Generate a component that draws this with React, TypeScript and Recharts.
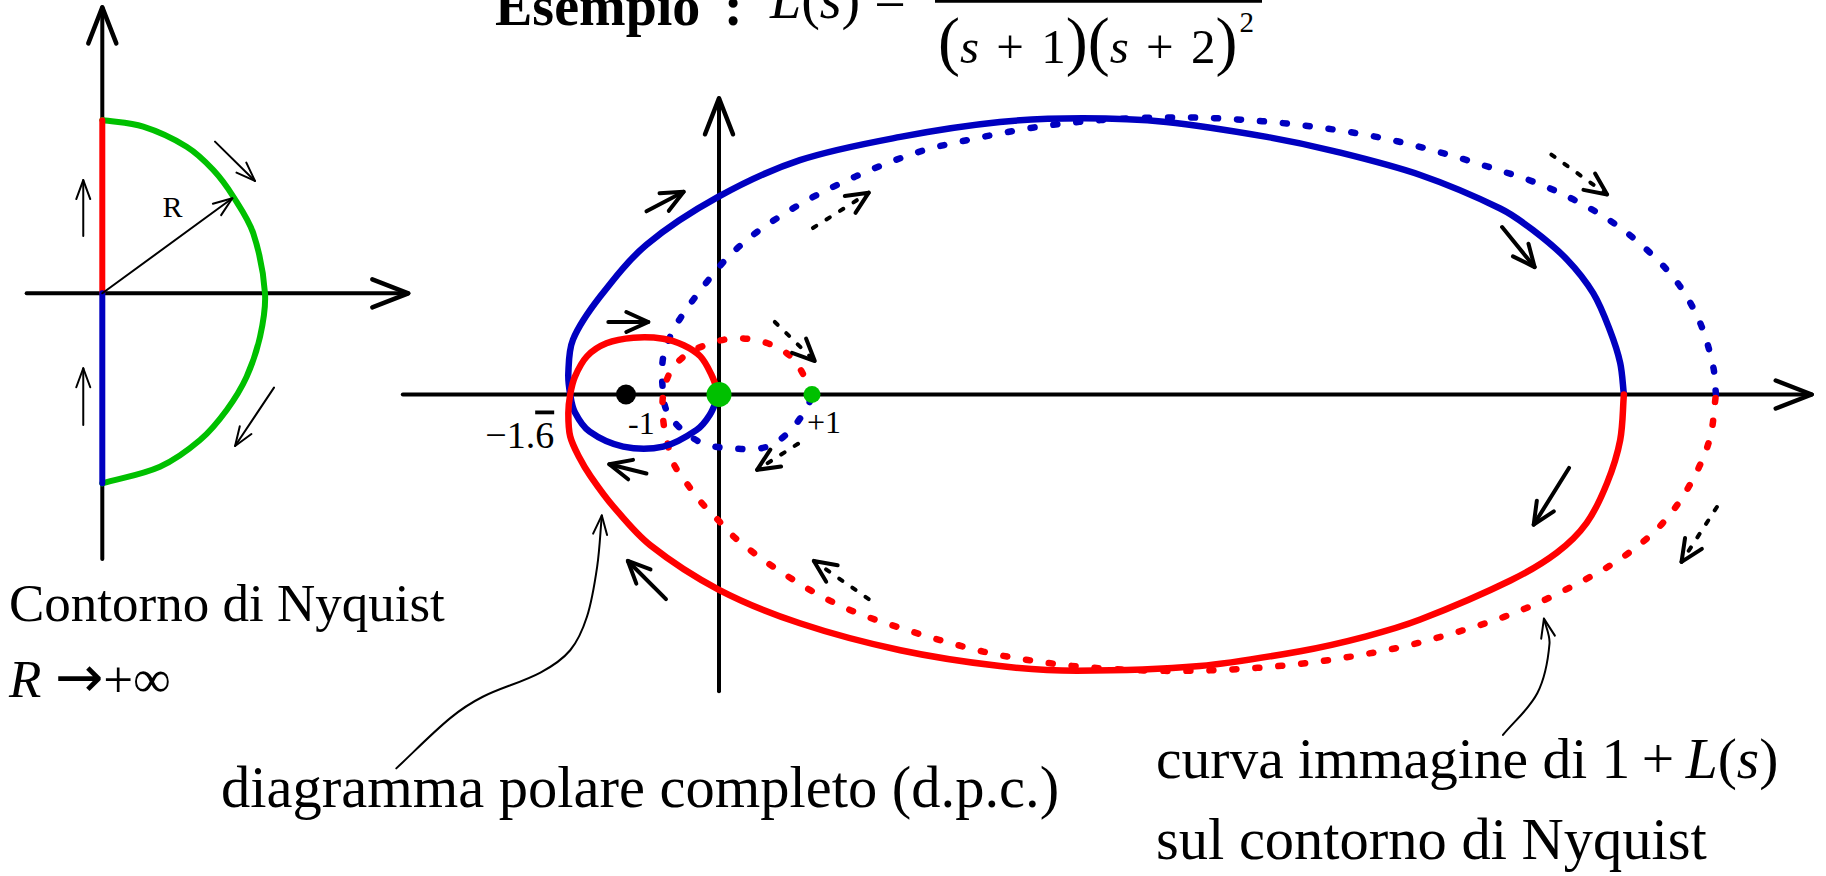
import React from 'react';
import { LineChart, Line, XAxis, YAxis, ReferenceDot } from 'recharts';

type Pt = { x: number; y: number };

const BLUE = '#0000C0';
const RED = '#FF0000';
const GREEN = '#00C000';
const BLACK = '#000000';
const FONT = "'Liberation Serif', 'Times New Roman', serif";

// ---- contorno di Nyquist (piano s, unità ≈ R) ----
const contourAxisX: Pt[] = [{ x: -0.445, y: 0 }, { x: 1.8, y: 0 }];
const contourAxisY: Pt[] = [{ x: 0, y: -1.563 }, { x: 0, y: 1.682 }];
const contourPosImag: Pt[] = [{ x: 0, y: 0 }, { x: 0, y: 1.018 }];
const contourNegImag: Pt[] = [{ x: 0, y: -1.118 }, { x: 0, y: 0 }];
const contourArc: Pt[] = [
  { x: 0, y: 1.019 }, { x: 0.241, y: 0.98 }, { x: 0.496, y: 0.862 }, { x: 0.653, y: 0.725 },
  { x: 0.771, y: 0.568 }, { x: 0.888, y: 0.353 }, { x: 0.957, y: 0 }, { x: 0.928, y: -0.255 },
  { x: 0.849, y: -0.491 }, { x: 0.732, y: -0.686 }, { x: 0.575, y: -0.863 }, { x: 0.339, y: -1.02 },
  { x: 0, y: -1.118 },
];
const contourArrows: Pt[][] = [
  [{ x: 0, y: 0 }, { x: 0.765, y: 0.559 }],
  [{ x: 0.663, y: 0.892 }, { x: 0.898, y: 0.661 }],
  [{ x: 1.01, y: -0.555 }, { x: 0.781, y: -0.898 }],
  [{ x: -0.112, y: 0.337 }, { x: -0.112, y: 0.666 }],
  [{ x: -0.112, y: -0.775 }, { x: -0.112, y: -0.441 }],
];

// ---- diagramma polare L(jw) e curva 1+L(s) ----
const axisX: Pt[] = [{ x: -3.4, y: 0 }, { x: 11.75, y: 0 }];
const axisY: Pt[] = [{ x: 0, y: -3.19 }, { x: 0, y: 3.185 }];

const blueSolid: Pt[] = [
  { x: 9.73, y: 0 }, { x: 9.69, y: 0.34 }, { x: 9.58, y: 0.69 }, { x: 9.4, y: 1.09 }, { x: 9.12, y: 1.45 },
  { x: 8.75, y: 1.77 }, { x: 8.4, y: 2.0 }, { x: 7.54, y: 2.36 }, { x: 6.6, y: 2.62 }, { x: 5.89, y: 2.77 },
  { x: 4.81, y: 2.93 }, { x: 3.91, y: 2.97 }, { x: 3.02, y: 2.93 }, { x: 1.95, y: 2.77 }, { x: 0.87, y: 2.52 },
  { x: 0, y: 2.13 }, { x: -0.78, y: 1.61 }, { x: -1.28, y: 1.05 }, { x: -1.57, y: 0.59 }, { x: -1.62, y: 0.23 },
  { x: -1.6, y: 0 }, { x: -1.55, y: -0.19 }, { x: -1.39, y: -0.4 }, { x: -1.03, y: -0.56 }, { x: -0.6, y: -0.56 },
  { x: -0.24, y: -0.38 }, { x: -0.1, y: -0.22 }, { x: 0, y: 0 },
];

const redSolid: Pt[] = [
  { x: 0, y: 0 }, { x: -0.08, y: 0.21 }, { x: -0.2, y: 0.41 }, { x: -0.38, y: 0.53 }, { x: -0.6, y: 0.6 },
  { x: -0.92, y: 0.61 }, { x: -1.21, y: 0.55 }, { x: -1.42, y: 0.41 }, { x: -1.55, y: 0.19 }, { x: -1.6, y: 0 },
  { x: -1.62, y: -0.2 }, { x: -1.6, y: -0.45 }, { x: -1.5, y: -0.68 }, { x: -1.38, y: -0.88 }, { x: -1.14, y: -1.2 },
  { x: -0.74, y: -1.62 }, { x: 0, y: -2.1 }, { x: 0.87, y: -2.46 }, { x: 1.95, y: -2.75 }, { x: 3.02, y: -2.92 },
  { x: 3.85, y: -2.97 }, { x: 5.17, y: -2.92 }, { x: 6.25, y: -2.76 }, { x: 6.96, y: -2.6 }, { x: 7.54, y: -2.42 },
  { x: 8.51, y: -2.0 }, { x: 9.01, y: -1.7 }, { x: 9.33, y: -1.38 }, { x: 9.55, y: -0.95 }, { x: 9.69, y: -0.49 },
  { x: 9.73, y: 0 },
];

const blueDotted: Pt[] = [
  { x: 10.72, y: 0 }, { x: 10.69, y: 0.3 }, { x: 10.55, y: 0.77 }, { x: 10.3, y: 1.21 }, { x: 9.94, y: 1.59 },
  { x: 9.55, y: 1.89 }, { x: 9.08, y: 2.15 }, { x: 8.61, y: 2.34 }, { x: 7.39, y: 2.7 }, { x: 6.39, y: 2.88 },
  { x: 5.35, y: 2.97 }, { x: 4.45, y: 2.97 }, { x: 3.59, y: 2.9 }, { x: 2.84, y: 2.77 }, { x: 2.09, y: 2.59 },
  { x: 1.16, y: 2.2 }, { x: 0.51, y: 1.82 }, { x: 0.12, y: 1.5 }, { x: -0.2, y: 1.12 }, { x: -0.47, y: 0.73 },
  { x: -0.6, y: 0.4 }, { x: -0.6, y: 0 }, { x: -0.55, y: -0.2 }, { x: -0.35, y: -0.42 }, { x: -0.13, y: -0.54 },
  { x: 0.15, y: -0.58 }, { x: 0.44, y: -0.58 }, { x: 0.62, y: -0.51 }, { x: 0.8, y: -0.35 }, { x: 0.94, y: -0.15 },
  { x: 1.01, y: 0 },
];

const redDotted: Pt[] = [
  { x: 1.01, y: 0 }, { x: 0.92, y: 0.19 }, { x: 0.8, y: 0.38 }, { x: 0.62, y: 0.51 }, { x: 0.37, y: 0.59 },
  { x: 0.12, y: 0.6 }, { x: -0.12, y: 0.54 }, { x: -0.35, y: 0.43 }, { x: -0.52, y: 0.25 }, { x: -0.6, y: 0 },
  { x: -0.6, y: -0.27 }, { x: -0.56, y: -0.49 }, { x: -0.49, y: -0.74 }, { x: -0.35, y: -0.95 }, { x: -0.2, y: -1.15 },
  { x: -0.01, y: -1.35 }, { x: 0.15, y: -1.52 }, { x: 0.37, y: -1.7 }, { x: 0.58, y: -1.85 }, { x: 1.01, y: -2.12 },
  { x: 1.44, y: -2.33 }, { x: 1.95, y: -2.51 }, { x: 2.41, y: -2.65 }, { x: 2.91, y: -2.78 }, { x: 3.42, y: -2.87 },
  { x: 3.92, y: -2.93 }, { x: 4.67, y: -2.97 }, { x: 5.44, y: -2.96 }, { x: 6.21, y: -2.9 }, { x: 6.96, y: -2.79 },
  { x: 7.6, y: -2.65 }, { x: 8.55, y: -2.35 }, { x: 9.37, y: -1.96 }, { x: 9.8, y: -1.69 }, { x: 10.15, y: -1.38 },
  { x: 10.44, y: -0.97 }, { x: 10.65, y: -0.49 }, { x: 10.72, y: 0 },
];

const solidArrows: Pt[][] = [
  [{ x: -0.78, y: 1.97 }, { x: -0.38, y: 2.18 }],
  [{ x: -1.19, y: 0.78 }, { x: -0.76, y: 0.78 }],
  [{ x: -0.78, y: -0.85 }, { x: -1.18, y: -0.75 }],
  [{ x: -0.57, y: -2.2 }, { x: -0.98, y: -1.79 }],
  [{ x: 8.42, y: 1.8 }, { x: 8.77, y: 1.37 }],
  [{ x: 9.14, y: -0.79 }, { x: 8.76, y: -1.4 }],
];
const dashedArrows: Pt[][] = [
  [{ x: 1.01, y: 1.79 }, { x: 1.61, y: 2.17 }],
  [{ x: 0.6, y: 0.78 }, { x: 1.03, y: 0.36 }],
  [{ x: 0.85, y: -0.53 }, { x: 0.41, y: -0.81 }],
  [{ x: 1.61, y: -2.2 }, { x: 1.02, y: -1.79 }],
  [{ x: 8.95, y: 2.58 }, { x: 9.55, y: 2.15 }],
  [{ x: 10.73, y: -1.21 }, { x: 10.35, y: -1.8 }],
];
const leaderPolar: Pt[] = [
  { x: -3.47, y: -4.02 }, { x: -2.89, y: -3.48 }, { x: -2.54, y: -3.25 }, { x: -1.92, y: -2.99 },
  { x: -1.6, y: -2.75 }, { x: -1.42, y: -2.39 }, { x: -1.31, y: -1.85 }, { x: -1.26, y: -1.3 },
];
const leaderImage: Pt[] = [
  { x: 8.43, y: -3.66 }, { x: 8.8, y: -3.21 }, { x: 8.93, y: -2.68 }, { x: 8.87, y: -2.41 },
];

const criticalPoint = { x: -1, y: 0, label: '-1' };
const originPoint = { x: 0, y: 0 };
const plusOnePoint = { x: 1, y: 0, label: '+1' };
const crossingPoint = { x: -1.6, y: 0, label: '\u22121.', bar: '6' };

const ZERO = { top: 0, right: 0, bottom: 0, left: 0 };

// curva liscia che passa per i punti (tangenti scalate sulla lunghezza della corda)
const smoothCurve = (context: any) => {
  let pts: number[][] = [];
  return {
    areaStart() {},
    areaEnd() {},
    lineStart() { pts = []; },
    point(x: number, y: number) { pts.push([+x, +y]); },
    lineEnd() {
      const n = pts.length;
      if (!n) return;
      context.moveTo(pts[0][0], pts[0][1]);
      if (n === 2) { context.lineTo(pts[1][0], pts[1][1]); return; }
      const dir = (i: number) => {
        const a = pts[Math.max(0, i - 1)];
        const b = pts[Math.min(n - 1, i + 1)];
        const dx = b[0] - a[0], dy = b[1] - a[1];
        const l = Math.hypot(dx, dy) || 1;
        return [dx / l, dy / l];
      };
      for (let i = 0; i < n - 1; i++) {
        const p1 = pts[i], p2 = pts[i + 1];
        const d = Math.hypot(p2[0] - p1[0], p2[1] - p1[1]) / 3;
        const t1 = dir(i), t2 = dir(i + 1);
        context.bezierCurveTo(p1[0] + t1[0] * d, p1[1] + t1[1] * d, p2[0] - t2[0] * d, p2[1] - t2[1] * d, p2[0], p2[1]);
      }
    },
  };
};

const seg = (key: string, data: Pt[], stroke: string, width: number, extra: any = {}) => (
  <Line
    key={key}
    data={data}
    dataKey="y"
    type="linear"
    stroke={stroke}
    strokeWidth={width}
    strokeLinecap="round"
    dot={false}
    activeDot={false}
    isAnimationActive={false}
    {...extra}
  />
);

const pointLabel = (content: React.ReactNode, dx: number, dy: number, size: number, anchor: string) =>
  (p: any) => {
    const vb = p.viewBox || { x: 0, y: 0, width: 0, height: 0 };
    const cx = vb.x + vb.width / 2;
    const cy = vb.y + vb.height / 2;
    return (
      <text x={cx + dx} y={cy + dy} fontSize={size} fontFamily={FONT} textAnchor={anchor} fill={BLACK}>
        {content}
      </text>
    );
  };

function ContourChart() {
  const W = 440, H = 580, U = 170, OX = 102.3, OY = 293.3;
  return (
    <LineChart width={W} height={H} margin={ZERO}>
      <XAxis type="number" dataKey="x" scale="linear" domain={[-OX / U, (W - OX) / U]} allowDataOverflow hide />
      <YAxis type="number" dataKey="y" scale="linear" domain={[(OY - H) / U, OY / U]} allowDataOverflow hide />
      {seg('cax', contourAxisX, BLACK, 4, { markerEnd: 'url(#headAxis)' })}
      {seg('cay', contourAxisY, BLACK, 4, { markerEnd: 'url(#headAxis)' })}
      {seg('arc', contourArc, GREEN, 6, { type: smoothCurve })}
      {seg('pos', contourPosImag, RED, 6)}
      {seg('neg', contourNegImag, BLUE, 6)}
      {contourArrows.map((a, i) => seg('ca' + i, a, BLACK, 2, { markerEnd: 'url(#headThin)' }))}
      <ReferenceDot x={0.413} y={0.451} r={1} fill="none" stroke="none"
        label={pointLabel('R', 0, 0, 30, 'middle')} />
    </LineChart>
  );
}

function NyquistChart() {
  const W = 1826, H = 876, U = 93, OX = 719, OY = 394.5;
  return (
    <LineChart width={W} height={H} margin={ZERO}>
      <XAxis type="number" dataKey="x" scale="linear" domain={[-OX / U, (W - OX) / U]} allowDataOverflow hide />
      <YAxis type="number" dataKey="y" scale="linear" domain={[(OY - H) / U, OY / U]} allowDataOverflow hide />
      {seg('ax', axisX, BLACK, 4, { markerEnd: 'url(#headAxis)' })}
      {seg('ay', axisY, BLACK, 4, { markerEnd: 'url(#headAxis)' })}
      {seg('bd', blueDotted, BLUE, 6.5, { type: smoothCurve, strokeDasharray: '4 19' })}
      {seg('rd', redDotted, RED, 6.5, { type: smoothCurve, strokeDasharray: '4 19' })}
      {seg('bs', blueSolid, BLUE, 6.5, { type: smoothCurve })}
      {seg('rs', redSolid, RED, 6.5, { type: smoothCurve })}
      {solidArrows.map((a, i) => seg('sa' + i, a, BLACK, 4, { markerEnd: 'url(#headMid)' }))}
      {dashedArrows.map((a, i) => seg('da' + i, a, BLACK, 4, { markerEnd: 'url(#headMid)', strokeDasharray: '4 12' }))}
      {seg('lp', leaderPolar, BLACK, 2, { type: smoothCurve, markerEnd: 'url(#headThin)' })}
      {seg('li', leaderImage, BLACK, 2, { type: smoothCurve, markerEnd: 'url(#headThin)' })}
      <ReferenceDot x={crossingPoint.x} y={crossingPoint.y} r={1} fill="none" stroke="none"
        label={pointLabel(
          <>
            {crossingPoint.label}
            <tspan style={{ textDecoration: 'overline' }}>{crossingPoint.bar}</tspan>
          </>, -16, 53, 38, 'end')} />
      <ReferenceDot x={criticalPoint.x} y={criticalPoint.y} r={10} fill={BLACK} stroke="none"
        label={pointLabel(criticalPoint.label, 2, 39, 32, 'start')} />
      <ReferenceDot x={plusOnePoint.x} y={plusOnePoint.y} r={8.5} fill={GREEN} stroke="none"
        label={pointLabel(plusOnePoint.label, -5, 38, 32, 'start')} />
      <ReferenceDot x={originPoint.x} y={originPoint.y} r={12.5} fill={GREEN} stroke="none" />
    </LineChart>
  );
}

function Overlay() {
  return (
    <svg width={1826} height={876} style={{ position: 'absolute', left: 0, top: 0, pointerEvents: 'none' }}
      fontFamily={FONT} fill={BLACK}>
      <defs>
        <marker id="headAxis" markerUnits="userSpaceOnUse" viewBox="-42 -20 46 40" markerWidth={46} markerHeight={40}
          refX={0} refY={0} orient="auto" overflow="visible">
          <path d="M -36 -14 L 0 0 L -36 14" fill="none" stroke={BLACK} strokeWidth={4.5} strokeLinecap="round" strokeLinejoin="round" />
        </marker>
        <marker id="headMid" markerUnits="userSpaceOnUse" viewBox="-28 -14 32 28" markerWidth={32} markerHeight={28}
          refX={0} refY={0} orient="auto" overflow="visible">
          <path d="M -22 -10 L 0 0 L -22 10" fill="none" stroke={BLACK} strokeWidth={4} strokeLinecap="round" strokeLinejoin="round" />
        </marker>
        <marker id="headThin" markerUnits="userSpaceOnUse" viewBox="-24 -10 28 20" markerWidth={28} markerHeight={20}
          refX={0} refY={0} orient="auto" overflow="visible">
          <path d="M -19 -7 L 0 0 L -19 7" fill="none" stroke={BLACK} strokeWidth={2} strokeLinecap="round" strokeLinejoin="round" />
        </marker>
      </defs>
      {/* titolo, in parte tagliato in alto come nell'originale */}
      <text y={25} fontSize={56} fontWeight="bold">
        <tspan x={495}>Esempio</tspan>
        <tspan x={724}>:</tspan>
      </text>
      <text x={770} y={18} fontSize={56}>
        <tspan fontStyle="italic">L</tspan>(<tspan fontStyle="italic">s</tspan>) =
      </text>
      <line x1={935} x2={1262} y1={1.3} y2={1.3} stroke={BLACK} strokeWidth={3} />
      <text x={938} y={63} fontSize={49} wordSpacing={5}>
        <tspan fontSize={66}>(</tspan><tspan fontStyle="italic">s</tspan> + 1<tspan fontSize={66}>)(</tspan><tspan fontStyle="italic">s</tspan> + 2<tspan fontSize={66}>)</tspan><tspan fontSize={29} dx={2} dy={-31}>2</tspan>
      </text>
      {/* didascalie */}
      <text x={9} y={621} fontSize={53}>Contorno di Nyquist</text>
      <text x={9} y={697} fontSize={53}>
        <tspan fontStyle="italic">R</tspan>{' '}<tspan fontFamily="'DejaVu Sans', sans-serif" fontSize={58}>→</tspan>+∞
      </text>
      <text x={221} y={807} fontSize={58.5}>diagramma polare completo (d.p.c.)</text>
      <text x={1156} y={778} fontSize={57.5}>
        curva immagine di 1{'\u2009'}+{'\u2009'}<tspan fontStyle="italic">L</tspan>(<tspan fontStyle="italic">s</tspan>)
      </text>
      <text x={1156} y={859} fontSize={58.5}>sul contorno di Nyquist</text>
    </svg>
  );
}

export default function App() {
  return (
    <div style={{ position: 'absolute', left: 0, top: 0, width: 1826, height: 876, overflow: 'hidden', background: '#fff' }}>
      <div style={{ position: 'absolute', left: 0, top: 0 }}>
        <ContourChart />
      </div>
      <div style={{ position: 'absolute', left: 0, top: 0 }}>
        <NyquistChart />
      </div>
      <Overlay />
    </div>
  );
}
